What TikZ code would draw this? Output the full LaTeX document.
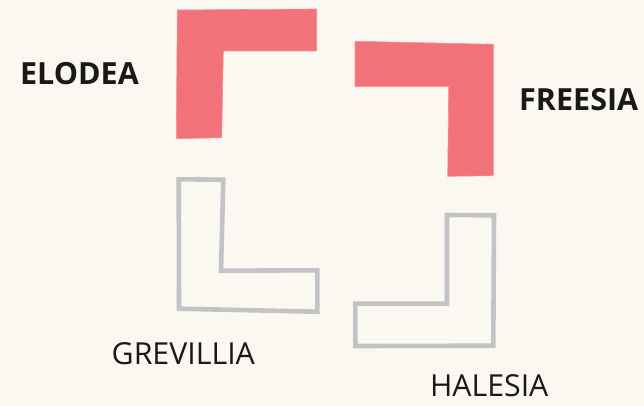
\documentclass[tikz,border=0pt]{standalone}
\usepackage{fontspec}
\setmainfont{Open Sans}
\usetikzlibrary{positioning}
\definecolor{bgcream}{HTML}{FBF8F2}
\definecolor{lred}{HTML}{F2727A}
\definecolor{lgray}{HTML}{C2C3C5}
\begin{document}
\begin{tikzpicture}[x=1pt,y=-1pt,every node/.style={inner sep=0pt,text=black!90},
  solidL/.style={fill=lred,draw=lred!80!white,line width=.6pt},
  hollowL/.style={draw=lgray,line width=4.6pt,line join=miter},
  boldlabel/.style={font=\fontsize{30.5}{34}\selectfont\bfseries},
  thinlabel/.style={font=\fontsize{30.3}{34}\selectfont}]
\fill[bgcream] (0,0) rectangle (644,406);
\useasboundingbox (0,0) rectangle (644,406);
% top left
\coordinate (e0) at (177.3,10.0);
\coordinate (e1) at (316.7,9.0);
\coordinate (e2) at (316.7,51.0);
\coordinate (e3) at (223.3,51.0);
\coordinate (e4) at (221.7,137.7);
\coordinate (e5) at (176.3,138.7);
\draw[solidL] (e0)--(e1)--(e2)--(e3)--(e4)--(e5)--cycle;
% top right
\coordinate (f0) at (355.0,41.3);
\coordinate (f1) at (493.3,44.3);
\coordinate (f2) at (493.3,175.7);
\coordinate (f3) at (447.7,176.3);
\coordinate (f4) at (448.7,86.7);
\coordinate (f5) at (355.0,86.7);
\draw[solidL] (f0)--(f1)--(f2)--(f3)--(f4)--(f5)--cycle;
% bottom left
\coordinate (g0) at (178.7,179.3);
\coordinate (g1) at (223.3,179.7);
\coordinate (g2) at (221.0,270.7);
\coordinate (g3) at (317.3,270.3);
\coordinate (g4) at (317.3,311.7);
\coordinate (g5) at (179.0,308.7);
\draw[hollowL] (g0)--(g1)--(g2)--(g3)--(g4)--(g5)--cycle;
% bottom right
\coordinate (h0) at (447.0,215.0);
\coordinate (h1) at (494.0,215.3);
\coordinate (h2) at (493.3,345.7);
\coordinate (h3) at (355.3,346.0);
\coordinate (h4) at (355.3,303.7);
\coordinate (h5) at (447.0,303.7);
\draw[hollowL] (h0)--(h1)--(h2)--(h3)--(h4)--(h5)--cycle;
\node[boldlabel] (elodea) at (79.5,74) {ELODEA};
\node[boldlabel] (freesia) at (578.7,100) {FREESIA};
\node[thinlabel] (grevillia) at (183.3,353.3) {GREVILLIA};
\node[thinlabel] (halesia) at (489.2,385.5) {HALESIA};
\end{tikzpicture}
\end{document}
